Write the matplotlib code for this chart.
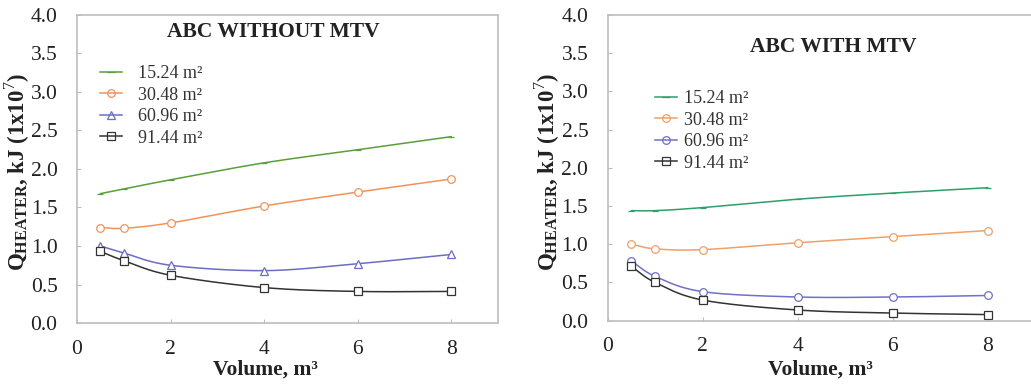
import numpy as np
import matplotlib
matplotlib.use("Agg")
import matplotlib.pyplot as plt
from matplotlib.lines import Line2D

plt.rcParams['font.family'] = ['Liberation Serif', 'DejaVu Serif']
plt.rcParams['mathtext.fontset'] = 'custom'
plt.rcParams['mathtext.rm'] = 'Liberation Serif'
plt.rcParams['mathtext.bf'] = 'Liberation Serif:bold'

volume = [0.5, 1, 2, 4, 6, 8]
series_labels = ["15.24 m²", "30.48 m²", "60.96 m²", "91.44 m²"]

without_mtv = {
    "15.24 m²": [1.68, 1.74, 1.86, 2.08, 2.25, 2.42],
    "30.48 m²": [1.24, 1.23, 1.30, 1.52, 1.70, 1.87],
    "60.96 m²": [1.00, 0.91, 0.75, 0.68, 0.77, 0.89],
    "91.44 m²": [0.93, 0.81, 0.62, 0.46, 0.41, 0.41],
}
with_mtv = {
    "15.24 m²": [1.44, 1.44, 1.48, 1.59, 1.67, 1.74],
    "30.48 m²": [1.00, 0.94, 0.93, 1.02, 1.10, 1.18],
    "60.96 m²": [0.78, 0.58, 0.38, 0.31, 0.31, 0.33],
    "91.44 m²": [0.71, 0.50, 0.27, 0.14, 0.10, 0.08],
}

titles = ["ABC WITHOUT MTV", "ABC WITH MTV"]
xticks = [0, 2, 4, 6, 8]
yticks = [0.0, 0.5, 1.0, 1.5, 2.0, 2.5, 3.0, 3.5, 4.0]


def smooth(x, y, n=30):
    """Catmull-Rom spline through the data points (display smoothing)."""
    x = np.asarray(x, float)
    y = np.asarray(y, float)
    px = np.concatenate([[2 * x[0] - x[1]], x, [2 * x[-1] - x[-2]]])
    py = np.concatenate([[2 * y[0] - y[1]], y, [2 * y[-1] - y[-2]]])
    xs, ys = [], []
    t = np.linspace(0, 1, n)
    for i in range(1, len(px) - 2):
        p0, p1, p2, p3 = px[i - 1], px[i], px[i + 1], px[i + 2]
        q0, q1, q2, q3 = py[i - 1], py[i], py[i + 1], py[i + 2]
        fx = 0.5 * ((2 * p1) + (-p0 + p2) * t + (2 * p0 - 5 * p1 + 4 * p2 - p3) * t**2 + (-p0 + 3 * p1 - 3 * p2 + p3) * t**3)
        fy = 0.5 * ((2 * q1) + (-q0 + q2) * t + (2 * q0 - 5 * q1 + 4 * q2 - q3) * t**2 + (-q0 + 3 * q1 - 3 * q2 + q3) * t**3)
        xs.append(fx)
        ys.append(fy)
    return np.concatenate(xs), np.concatenate(ys)


styles_left = {
    "15.24 m²": dict(color="#5a9e3c", marker="_"),
    "30.48 m²": dict(color="#f0935a", marker="o"),
    "60.96 m²": dict(color="#6c6cc4", marker="^"),
    "91.44 m²": dict(color="#333333", marker="s"),
}
styles_right = {
    "15.24 m²": dict(color="#2e9e6a", marker="_"),
    "30.48 m²": dict(color="#f0a068", marker="o"),
    "60.96 m²": dict(color="#7070c8", marker="o"),
    "91.44 m²": dict(color="#333333", marker="s"),
}

fig = plt.figure(figsize=(10.31, 3.85), dpi=100)
L1, B1, R1, T1 = 77, 323, 498, 15
L2, B2, R2, T2 = 607.7, 320.7, 1035.2, 15
ax1 = fig.add_axes([L1 / 1031, 1 - B1 / 385, (R1 - L1) / 1031, (B1 - T1) / 385])
ax2 = fig.add_axes([L2 / 1031, 1 - B2 / 385, (R2 - L2) / 1031, (B2 - T2) / 385])


def ax_coords(px, py, L, B, R, T):
    return (px - L) / (R - L), (B - py) / (B - T)


panels = [
    (ax1, without_mtv, styles_left, titles[0], ax_coords(273, 32, L1, B1, R1, T1),
     ax_coords(100, 65, L1, B1, R1, T1), 0.9),
    (ax2, with_mtv, styles_right, titles[1], ax_coords(833, 47, L2, B2, R2, T2),
     ax_coords(655, 90, L2, B2, R2, T2), 0.4),
]

frame_color = "#bdbdbd"
for ax, data, styles, title, tpos, lpos, tpad in panels:
    handles = []
    for lab in series_labels:
        st = styles[lab]
        xs, ys = smooth(volume, data[lab])
        ax.plot(xs, ys, color=st["color"], lw=1.1)
        ax.plot(volume, data[lab], linestyle="none", marker=st["marker"],
                ms=5.5 if st["marker"] != "_" else 5,
                mfc="white" if st["marker"] != "_" else st["color"], mec=st["color"], mew=0.9)
        handles.append(Line2D([], [], color=st["color"], lw=1.1, marker=st["marker"],
                              ms=5.5, mfc="none", mec=st["color"], mew=0.9))
    ax.set_xlim(0, 9)
    ax.set_ylim(0, 4.0)
    ax.set_xticks(xticks)
    ax.set_xticklabels([str(v) for v in xticks])
    ax.set_yticks(yticks)
    ax.set_yticklabels([f"{v:.1f}" for v in yticks])
    ax.tick_params(axis="both", direction="in", length=3, color=frame_color, labelsize=15.5,
                   labelcolor="#222222")
    ax.tick_params(axis="y", pad=14)
    ax.tick_params(axis="x", pad=12)
    for sp in ax.spines.values():
        sp.set_color(frame_color)
        sp.set_linewidth(1.2)
    ax.text(tpos[0], tpos[1], title, transform=ax.transAxes, ha="center", va="center",
            fontsize=15.5, fontweight="bold", color="#222222")
    ax.set_xlabel("Volume, m³", fontsize=15.5, fontweight="bold", color="#222222")
    ax.set_ylabel(r"$\mathbf{Q_{HEATER}}$, kJ (1x10$^{7}$)", fontsize=16.5, fontweight="bold",
                  color="#222222")
    leg = ax.legend(handles, series_labels, loc="upper left", bbox_to_anchor=lpos, frameon=False,
                    fontsize=13, handlelength=1.2, handletextpad=tpad,
                    labelspacing=0.25, borderaxespad=0, borderpad=0)
    for t in leg.get_texts():
        t.set_color("#333333")

ax1.xaxis.set_label_coords(*ax_coords(265, 360, L1, B1, R1, T1))
ax1.yaxis.set_label_coords(*ax_coords(32, 172, L1, B1, R1, T1))
ax2.xaxis.set_label_coords(*ax_coords(820, 360, L2, B2, R2, T2))
ax2.yaxis.set_label_coords(*ax_coords(562, 172, L2, B2, R2, T2))

fig.savefig("out.png", dpi=100)
